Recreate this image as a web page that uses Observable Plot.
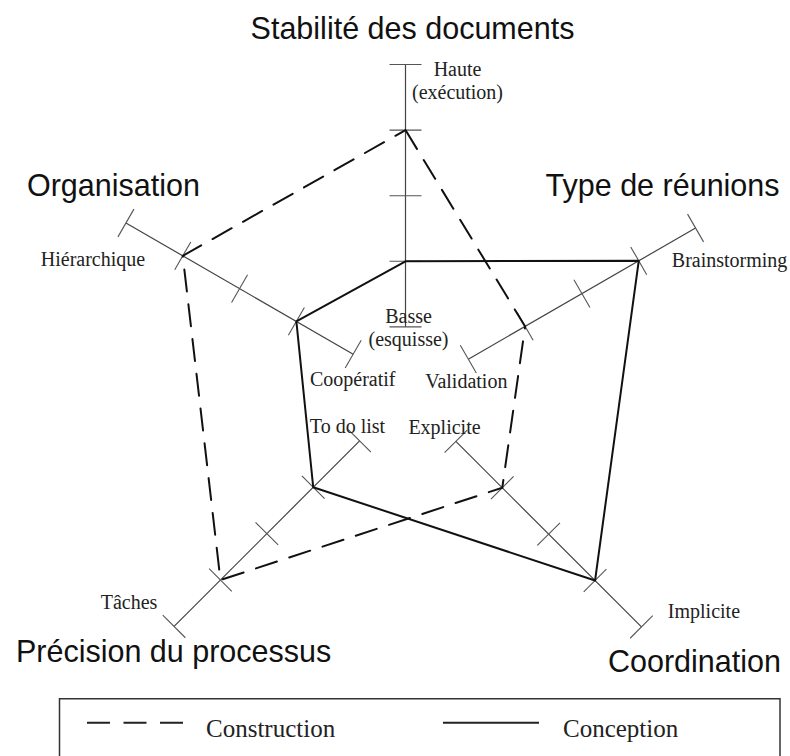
<!DOCTYPE html>
<html><head><meta charset="utf-8">
<script src="https://cdn.jsdelivr.net/npm/d3@7"></script>
<script src="https://cdn.jsdelivr.net/npm/@observablehq/plot@0.6"></script>
<style>
body{margin:0;background:#fff;}
#wrap{position:relative;width:790px;height:756px;overflow:hidden;background:#fff;}
#legend{position:absolute;left:0;top:698px;}
</style></head><body><div id="wrap"></div>
<script>
// ---- data ----
const dimensions = ["Stabilité des documents","Type de réunions","Coordination","Précision du processus","Organisation"];
const lowLabels = ["Basse\n(esquisse)","Validation","Explicite","To do list","Coopératif"];
const highLabels = ["Haute\n(exécution)","Brainstorming","Implicite","Tâches","Hiérarchique"];
const levels = [0,1,2,3,4];
const seriesNames = ["Construction","Conception"];
const construction = [3,1,1,3,3];
const conception = [1,3,3,1,1];

// ---- layout ----
const angles = [90,30,-45,-135,150];
const W=790, H=698, cx=405, cy=392, step=65.6, tickHalf=16;
const axisShift = [[0,0],[6,-0.5],[4,2.5],[0.5,2],[4.5,-5.5]];
const lowOffset = [[3,18.6],[4,28],[-7.4,-5],[-11.6,-6],[4,26]];
const highOffset = [[52,34],[40,38],[66.5,-6],[-44.5,-15],[-28.5,37]];
const titleOffset = [[7,-26],[-27,-33],[57,48],[0,38],[-8,-33]];

const rad = i => angles[i]*Math.PI/180;
const shift = (p,o) => [p[0]+o[0]/step, p[1]-o[1]/step];
const base = (i,l) => { const a=rad(i), r=l+1; return [r*Math.cos(a), r*Math.sin(a)]; };
const pt = (i,l) => shift(base(i,l), axisShift[i]);

const axisLines = dimensions.map((d,i)=>{const a=pt(i,0), b=pt(i,levels[levels.length-1]); return {d,x1:a[0],y1:a[1],x2:b[0],y2:b[1]};});
const ticks = dimensions.flatMap((d,i)=>levels.map(l=>{
  const p=pt(i,l), a=rad(i), h=tickHalf/step, px=-Math.sin(a)*h, py=Math.cos(a)*h;
  return {d,l,x1:p[0]-px,y1:p[1]-py,x2:p[0]+px,y2:p[1]+py};
}));
const poly = (name, vals) => [...dimensions.map((d,i)=>i), 0].map(i=>{const p=pt(i,vals[i]); return {series:name,d:dimensions[i],x:p[0],y:p[1]};});
const rows = [...poly(seriesNames[0], construction), ...poly(seriesNames[1], conception)];
const lowText = dimensions.map((d,i)=>{const p=shift(base(i,levels[0]),lowOffset[i]); return {text:lowLabels[i],x:p[0],y:p[1]};});
const highText = dimensions.map((d,i)=>{const p=shift(base(i,levels[levels.length-1]),highOffset[i]); return {text:highLabels[i],x:p[0],y:p[1]};});
const titles = dimensions.map((d,i)=>{const p=shift(base(i,levels[levels.length-1]),titleOffset[i]); return {text:d,x:p[0],y:p[1]};});

const chart = Plot.plot({
  width: W, height: H, margin: 0,
  x: {domain:[-cx/step,(W-cx)/step], axis:null},
  y: {domain:[(cy-H)/step, cy/step], axis:null},
  style: {background:"#fff"},
  marks: [
    Plot.link(axisLines, {x1:"x1",y1:"y1",x2:"x2",y2:"y2",stroke:"#444",strokeWidth:1.2}),
    Plot.link(ticks, {x1:"x1",y1:"y1",x2:"x2",y2:"y2",stroke:"#555",strokeWidth:1.1}),
    Plot.line(rows.filter(r=>r.series===seriesNames[0]), {x:"x",y:"y",stroke:"#111",strokeWidth:2,strokeDasharray:"22,13",curve:"linear"}),
    Plot.line(rows.filter(r=>r.series===seriesNames[1]), {x:"x",y:"y",stroke:"#111",strokeWidth:2,curve:"linear"}),
    Plot.text(lowText, {x:"x",y:"y",text:"text",textAnchor:"middle",lineAnchor:"bottom",lineHeight:1.15,fontSize:20,fontFamily:"Liberation Serif",fill:"#222"}),
    Plot.text(highText, {x:"x",y:"y",text:"text",textAnchor:"middle",lineAnchor:"bottom",lineHeight:1.15,fontSize:20,fontFamily:"Liberation Serif",fill:"#222"}),
    Plot.text(titles, {x:"x",y:"y",text:"text",textAnchor:"middle",lineAnchor:"bottom",fontSize:30.5,fontFamily:"Liberation Sans",fill:"#111"})
  ]
});
const wrap = document.getElementById("wrap");
wrap.appendChild(chart);

// ---- legend ----
const lg = d3.select(wrap).append("svg").attr("id","legend").attr("width",W).attr("height",58);
lg.append("rect").attr("x",59.5).attr("y",0.75).attr("width",720.5).attr("height",80).attr("fill","none").attr("stroke","#333").attr("stroke-width",1.5);
const swatchX = [87, 443], textX = [206, 563], dashes = ["23,13.5", null];
seriesNames.forEach((s,i)=>{
  const ln = lg.append("line").attr("x1",swatchX[i]).attr("x2",swatchX[i]+96).attr("y1",24.7).attr("y2",24.7).attr("stroke","#222").attr("stroke-width",2);
  if (dashes[i]) ln.attr("stroke-dasharray",dashes[i]);
  lg.append("text").attr("x",textX[i]).attr("y",39).attr("font-family","Liberation Serif").attr("font-size",25).attr("fill","#222").text(s);
});
</script></body></html>
